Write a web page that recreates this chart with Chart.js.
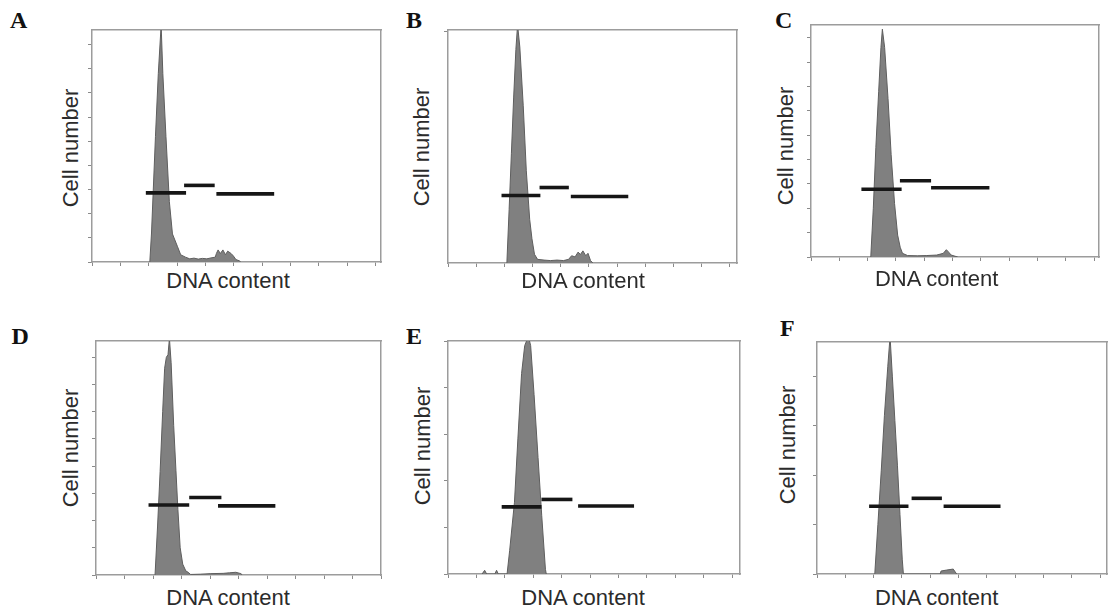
<!DOCTYPE html>
<html>
<head>
<meta charset="utf-8">
<script src="https://cdn.jsdelivr.net/npm/chart.js@4.4.0/dist/chart.umd.min.js"></script>
<style>
  html, body { margin: 0; padding: 0; background: #fff; }
  body { width: 1110px; height: 615px; overflow: hidden; position: relative; }
  .panel { position: absolute; }
  .lbl { position: absolute; font: bold 24px "Liberation Serif", "Times New Roman", serif; line-height: 24px; color: #111; }
  .xtitle, .ytitle { position: absolute; font: 22px "Liberation Sans", Arial, sans-serif; line-height: 22px; color: #2b2b2b; white-space: nowrap; }
  .xtitle { transform: translate(-50%, -50%); }
  .ytitle { transform: translate(-50%, -50%) rotate(-90deg); }
</style>
</head>
<body>
<script>
// DNA content channel (x) and cell count (y, axis units) for each histogram
const chA = [204, 210, 224, 234, 244, 250, 261, 273, 284, 302, 313, 330, 345, 360, 375, 390, 405, 420, 435, 439, 445, 453, 462, 471, 479, 491, 499, 508, 520, 525];
const cntA = [0, 1.2, 5.2, 7.8, 9.8, 7.8, 5.2, 2.5, 1.16, 0.63, 0.3, 0.2, 0.13, 0.16, 0.12, 0.15, 0.13, 0.17, 0.2, 0.35, 0.5, 0.35, 0.5, 0.3, 0.45, 0.35, 0.25, 0.1, 0.05, 0];

const chB = [209, 217, 225, 233, 241, 247, 255, 267, 278, 290, 298, 307, 318, 341, 364, 387, 410, 428, 439, 451, 462, 470, 479, 489, 497, 506, 514];
const cntB = [0, 2.2, 4.5, 6.8, 8.8, 9.8, 8.9, 6.5, 3.8, 1.8, 1.0, 0.36, 0.15, 0.12, 0.1, 0.12, 0.1, 0.15, 0.3, 0.25, 0.45, 0.35, 0.5, 0.3, 0.4, 0.1, 0];

const chC = [211, 220, 229, 239, 247, 252, 260, 272, 283, 295, 306, 315, 323, 341, 375, 409, 444, 467, 478, 486, 495, 518];
const cntC = [0, 2.0, 4.5, 6.8, 8.6, 9.35, 8.6, 6.5, 4.2, 2.2, 0.9, 0.4, 0.15, 0.06, 0.05, 0.06, 0.08, 0.15, 0.3, 0.2, 0.08, 0];

const chD = [209, 218, 227, 236, 243, 249, 255, 260, 266, 275, 283, 290, 298, 307, 318, 326, 335, 369, 404, 450, 472, 495, 513, 518];
const cntD = [0, 1.8, 3.8, 6.0, 7.6, 8.0, 8.1, 8.7, 7.8, 5.5, 3.85, 2.4, 1.0, 0.4, 0.15, 0.1, 0.02, 0.03, 0.05, 0.06, 0.08, 0.1, 0.05, 0];

const chE = [120, 129, 136, 165, 171, 177, 208, 217, 234, 246, 259, 270, 283, 291, 303, 317, 330, 343, 346];
const cntE = [0, 0.08, 0, 0, 0.08, 0, 0, 0.5, 1.54, 2.9, 4.3, 4.9, 5.1, 4.9, 3.85, 2.5, 1.25, 0.1, 0];

const chF = [204, 215, 227, 238, 250, 258, 266, 275, 284, 293, 301, 305, 435, 438, 458, 481, 493];
const cntF = [0, 1.0, 2.1, 3.2, 4.2, 4.8, 4.0, 3.1, 2.2, 1.2, 0.3, 0, 0, 0.06, 0.08, 0.1, 0];

// gate markers: [from channel, to channel, level]
const gatesA = [[190, 332, 2.86], [325, 433, 3.17], [439, 643, 2.82]];
const gatesB = [[190, 328, 2.78], [325, 429, 3.11], [436, 640, 2.74]];
const gatesC = [[178, 320, 2.78], [314, 424, 3.13], [424, 630, 2.84]];
const gatesD = [[186, 330, 2.57], [330, 444, 2.85], [432, 635, 2.54]];
const gatesE = [[189, 329, 1.44], [329, 438, 1.60], [458, 655, 1.46]];
const gatesF = [[184, 323, 1.37], [334, 441, 1.53], [447, 648, 1.37]];

const panelLetters = ['A', 'B', 'C', 'D', 'E', 'F'];
const xTitle = 'DNA content';
const yTitle = 'Cell number';

// page layout of each panel (plot box, axis ranges, text spots)
const panels = [
  { ch: chA, cnt: cntA, gates: gatesA, l: 92.3, t: 22, r: 389, b: 262.3, xMax: 1020, yMax: 9.6, lbl: [10, 7.5], yt: [71, 147.5], xt: [228, 281] },
  { ch: chB, cnt: cntB, gates: gatesB, l: 447.7, t: 21.7, r: 745, b: 262.3, xMax: 1026, yMax: 9.6, topTick: true, lbl: [406, 7.5], yt: [421.5, 146.7], xt: [583, 281] },
  { ch: chC, cnt: cntC, gates: gatesC, l: 811, t: 17.3, r: 1106.7, b: 257.3, xMax: 1017, yMax: 9.52, lbl: [775, 7.5], yt: [786, 146], xt: [936.7, 279] },
  { ch: chD, cnt: cntD, gates: gatesD, l: 96, t: 333.3, r: 389.3, b: 575, xMax: 1009, yMax: 8.6, lbl: [11.5, 324], yt: [71, 448], xt: [228, 597.5] },
  { ch: chE, cnt: cntE, gates: gatesE, l: 448.3, t: 333.3, r: 748.3, b: 574.3, xMax: 1028, yMax: 5.0, lbl: [406, 324], yt: [422.5, 445.8], xt: [583, 597.5] },
  { ch: chF, cnt: cntF, gates: gatesF, l: 816.7, t: 334, r: 1114.7, b: 574.3, xMax: 1024, yMax: 4.69, lbl: [780, 316], yt: [787.5, 445], xt: [936.7, 597.5] },
];

const boxColor = '#9c9c9c';
const tickColor = '#8a8a8a';

const addText = (cls, text, x, y) => {
  const d = document.createElement('div');
  d.className = cls;
  d.textContent = text;
  d.style.left = x + 'px';
  d.style.top = y + 'px';
  document.body.appendChild(d);
};

panels.forEach((p, i) => {
  const wrap = document.createElement('div');
  wrap.className = 'panel';
  wrap.style.left = (p.l - 6) + 'px';
  wrap.style.top = (p.t - 3) + 'px';
  const cv = document.createElement('canvas');
  cv.width = Math.round(p.r - p.l + 9);
  cv.height = Math.round(p.b - p.t + 9);
  wrap.appendChild(cv);
  document.body.appendChild(wrap);

  const datasets = p.gates.map((g) => ({
    type: 'line',
    data: [{ x: g[0], y: g[2] }, { x: g[1], y: g[2] }],
    borderColor: '#161616',
    borderWidth: 3.6,
    borderCapStyle: 'butt',
    pointRadius: 0,
    fill: false,
    order: 0,
  }));
  datasets.push({
    type: 'line',
    data: p.ch.map((c, k) => ({ x: c, y: p.cnt[k] })),
    borderColor: '#5e5e5e',
    borderWidth: 1,
    backgroundColor: '#808080',
    fill: 'origin',
    pointRadius: 0,
    tension: 0,
    order: 1,
  });

  new Chart(cv, {
    type: 'line',
    data: { datasets: datasets },
    options: {
      responsive: false,
      animation: false,
      devicePixelRatio: 1,
      events: [],
      layout: { padding: { left: 2, top: 3, right: 3, bottom: 2 } },
      plugins: { legend: { display: false }, tooltip: { enabled: false } },
      scales: {
        x: {
          type: 'linear', min: 0, max: p.xMax,
          ticks: { display: false, stepSize: 100, includeBounds: false },
          grid: { drawOnChartArea: false, drawTicks: true, tickLength: 4, tickColor: tickColor, tickWidth: 1 },
          border: { color: boxColor, width: 1.5 },
        },
        y: {
          type: 'linear', min: 0, max: p.yMax,
          ticks: { display: false, stepSize: 1, includeBounds: false },
          afterBuildTicks: p.topTick ? (s) => { s.ticks = [{ value: p.yMax - 0.05 }]; } : undefined,
          grid: { drawOnChartArea: false, drawTicks: true, tickLength: 4, tickColor: tickColor, tickWidth: 1 },
          border: { color: boxColor, width: 1.5 },
        },
        x2: {
          type: 'linear', position: 'top',
          ticks: { display: false }, grid: { display: false },
          border: { color: boxColor, width: 1.5 },
        },
        y2: {
          type: 'linear', position: 'right',
          ticks: { display: false }, grid: { display: false },
          border: { color: boxColor, width: 1.5 },
        },
      },
    },
  });

  addText('lbl', panelLetters[i], p.lbl[0], p.lbl[1]);
  addText('ytitle', yTitle, p.yt[0], p.yt[1]);
  addText('xtitle', xTitle, p.xt[0], p.xt[1]);
});
</script>
</body>
</html>
